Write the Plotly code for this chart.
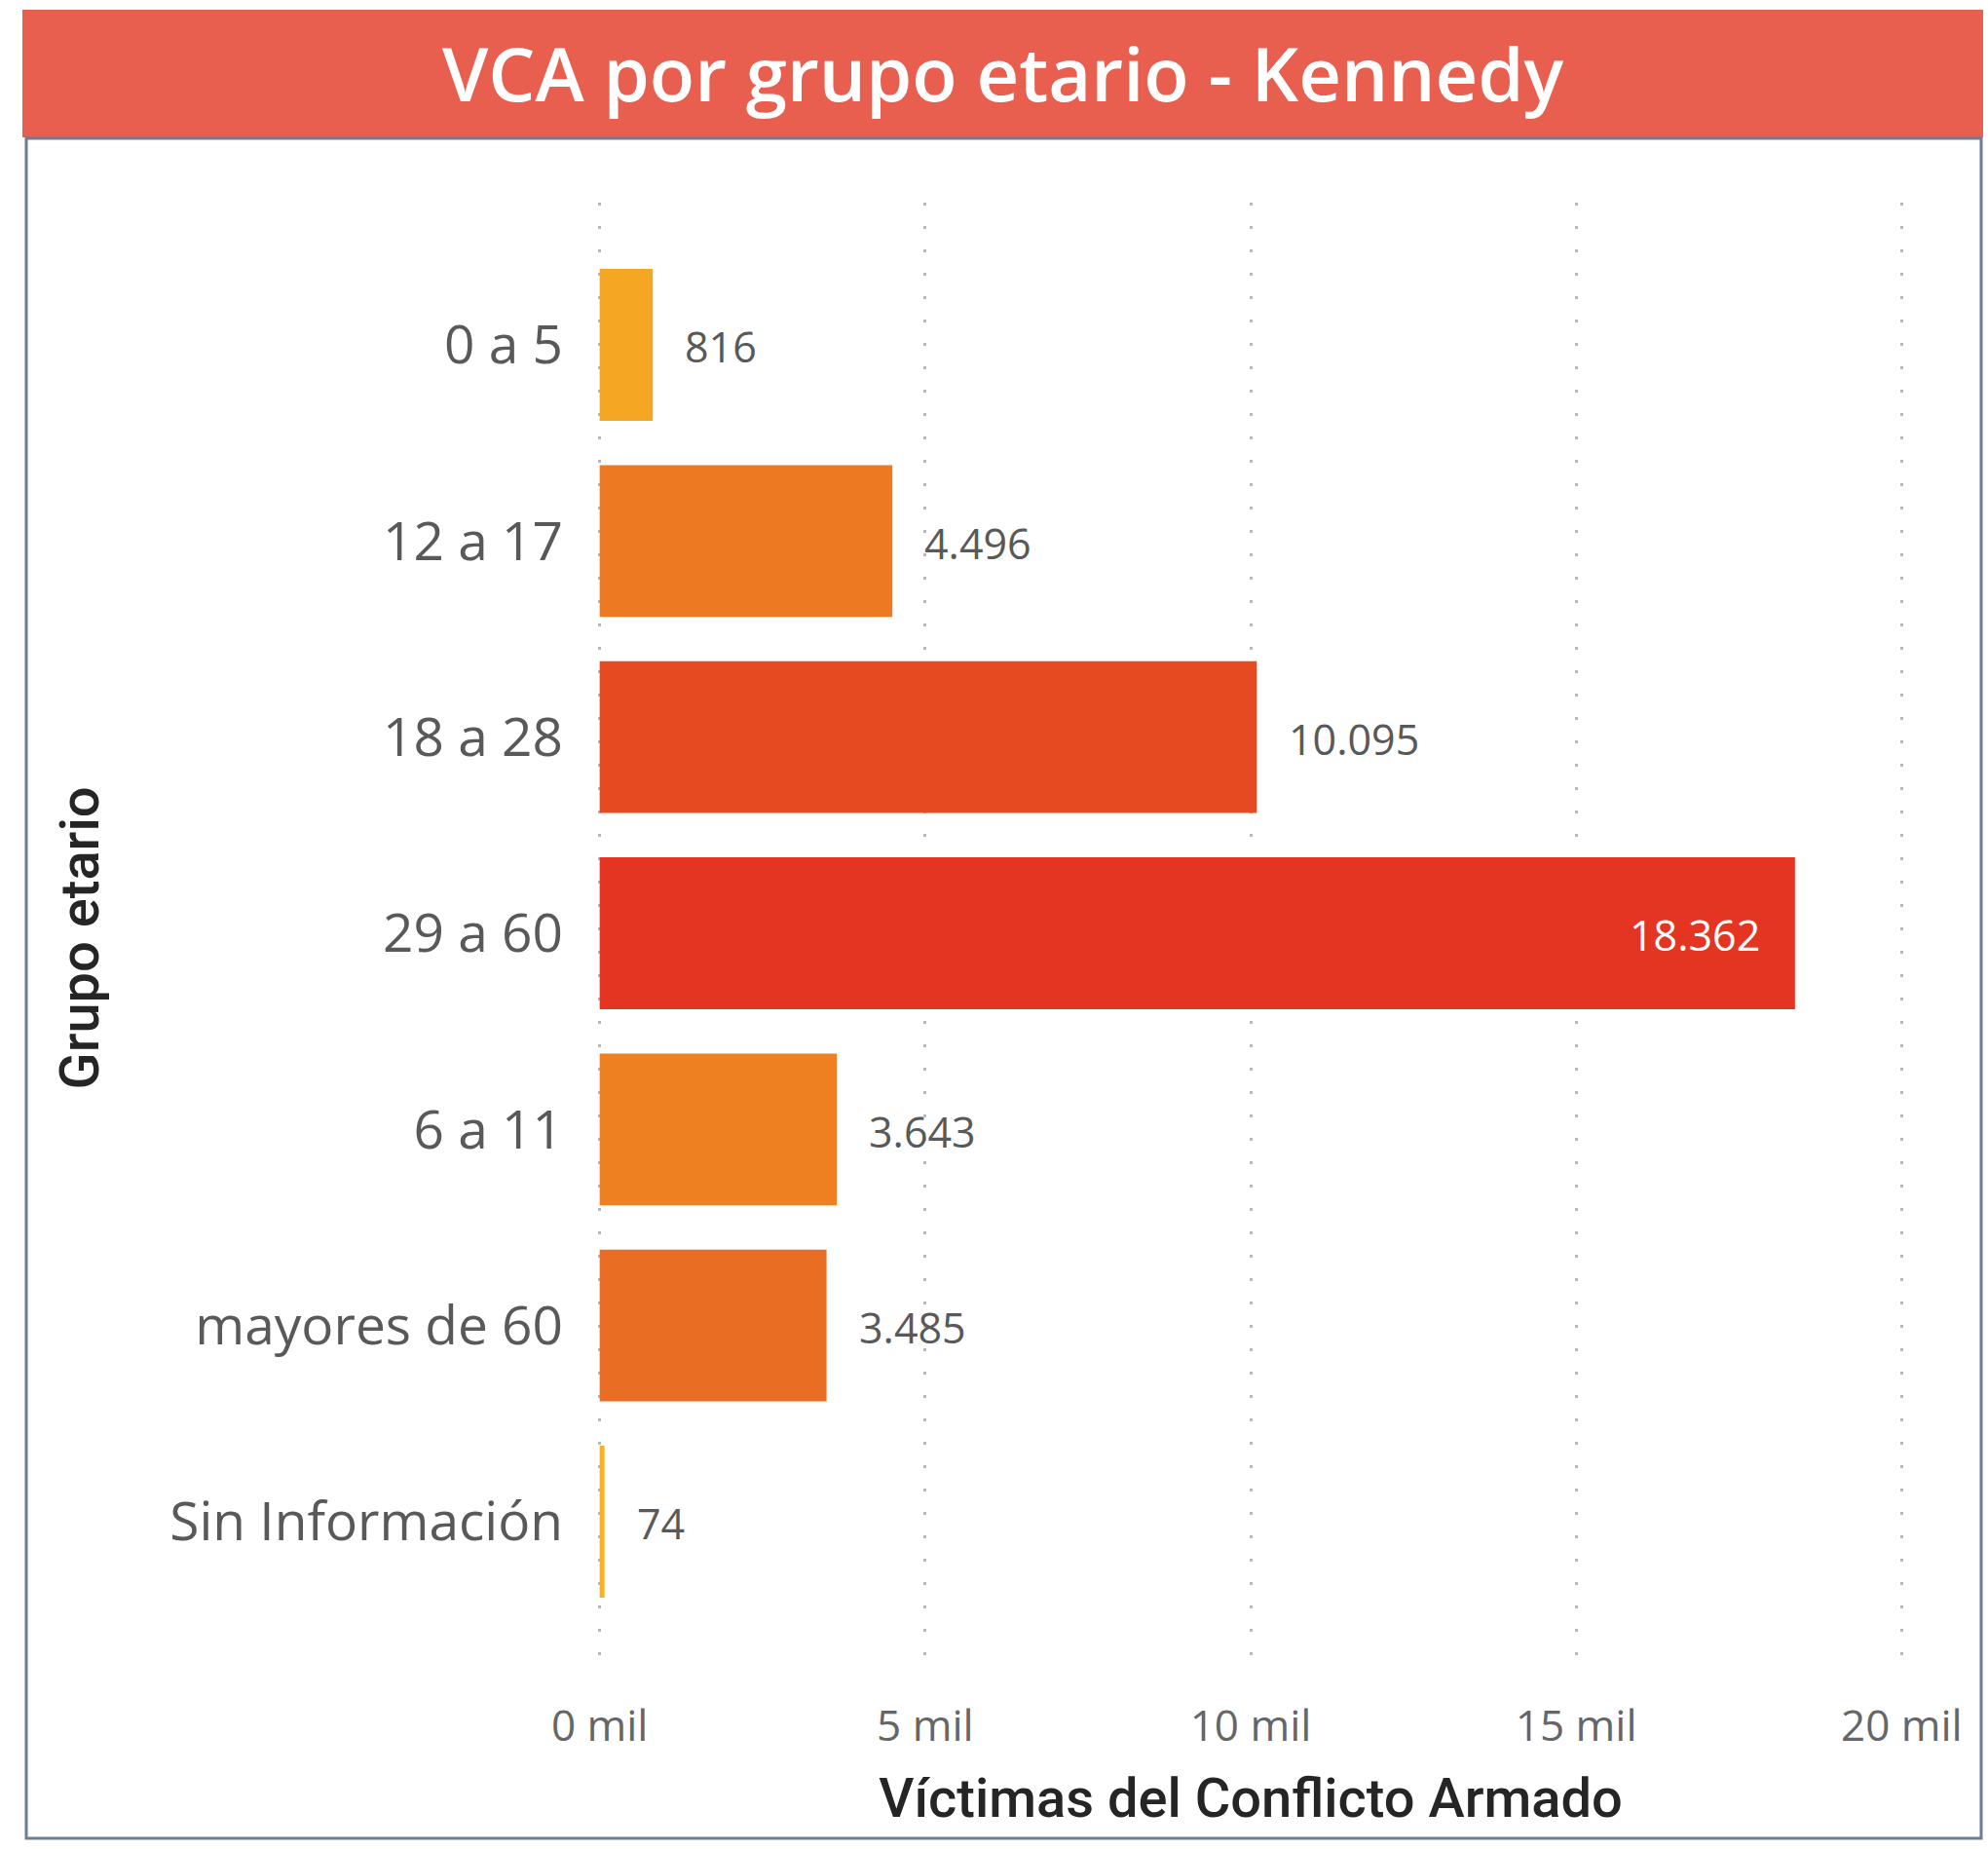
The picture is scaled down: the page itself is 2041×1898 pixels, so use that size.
import plotly.graph_objects as go

# Víctimas del conflicto armado por grupo etario - Kennedy
categorias = ["0 a 5", "12 a 17", "18 a 28", "29 a 60", "6 a 11", "mayores de 60", "Sin Información"]
victimas = [816, 4496, 10095, 18362, 3643, 3485, 74]
colores = ["#F5A623", "#ED7A23", "#E54A21", "#E33522", "#EE8022", "#EA6D24", "#F8B122"]
etiquetas = ["816", "4.496", "10.095", "18.362", "3.643", "3.485", "74"]
dentro = [False, False, False, True, False, False, False]

tick_vals = [0, 5000, 10000, 15000, 20000]
tick_text = ["0 mil", "5 mil", "10 mil", "15 mil", "20 mil"]

W, H = 2041, 1898
ML, MR, MT, MB = 614, 87, 208, 180

fig = go.Figure(
    go.Bar(
        x=victimas,
        y=categorias,
        orientation="h",
        marker=dict(color=colores, line=dict(width=0)),
        hoverinfo="skip",
    )
)

# value labels: outside to the right of each bar, inside in white for the longest bar
annotations = []
for cat, val, txt, inn in zip(categorias, victimas, etiquetas, dentro):
    annotations.append(
        dict(
            x=val, y=cat, xref="x", yref="y",
            text=txt, showarrow=False,
            xanchor="right" if inn else "left",
            xshift=-34 if inn else 31,
            yshift=-2,
            font=dict(family="Open Sans", size=43, color="#FFFFFF" if inn else "#595959"),
        )
    )

fig.update_layout(
    width=W, height=H,
    margin=dict(l=ML, r=MR, t=MT, b=MB),
    paper_bgcolor="#FFFFFF",
    plot_bgcolor="#FFFFFF",
    bargap=0.226,
    showlegend=False,
    font=dict(family="Open Sans", color="#595959"),
    xaxis=dict(
        range=[-25, 20025],
        tickvals=tick_vals,
        ticktext=tick_text,
        tickfont=dict(family="Open Sans", size=44, color="#666666"),
        showgrid=True,
        gridcolor="#B8B8B8",
        gridwidth=3,
        griddash="3px,21px",
        zeroline=False,
        showline=False,
        ticks="outside", ticklen=15, tickcolor="rgba(0,0,0,0)",
        title=dict(text="Víctimas del Conflicto Armado",
                   font=dict(family="Roboto", size=56, weight=500, color="#252525"),
                   standoff=27),
    ),
    yaxis=dict(
        autorange=False,
        range=[6.775, -0.725],
        tickfont=dict(family="Open Sans", size=55, color="#595959"),
        showgrid=False,
        zeroline=False,
        showline=False,
        ticks="outside", ticklen=24, tickcolor="rgba(0,0,0,0)",
        title=dict(text="Grupo etario",
                   font=dict(family="Roboto", size=56, weight=500, color="#252525"),
                   standoff=54),
    ),
)

# header banner and frame drawn in pixel space using paper coordinates
def px(xv):
    return (xv - ML) / (W - ML - MR)

def py(yv):
    return 1 - (yv - MT) / (H - MT - MB)

fig.add_shape(type="rect", xref="paper", yref="paper",
              x0=px(23), x1=px(2036), y0=py(10), y1=py(141),
              fillcolor="#E85F4F", line=dict(width=0), layer="below")
fig.add_shape(type="rect", xref="paper", yref="paper",
              x0=px(27), x1=px(2034), y0=py(142), y1=py(1887),
              fillcolor="rgba(0,0,0,0)", line=dict(color="#6C7D96", width=3), layer="above")

annotations.append(
    dict(
        x=px(1030), y=py(75), xref="paper", yref="paper",
        text="VCA por grupo etario - Kennedy", showarrow=False,
        xanchor="center", yanchor="middle",
        font=dict(family="Open Sans", size=76, weight=600, color="#FFFFFF"),
    )
)
fig.update_layout(annotations=annotations)

fig.write_html("out.html")
